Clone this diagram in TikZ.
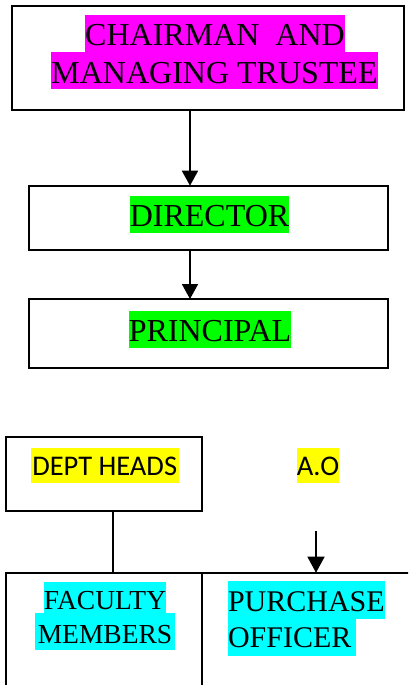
\documentclass[tikz,border=0pt]{standalone}
\usepackage{fontspec}
\setmainfont{Liberation Serif}
\newfontfamily\calibrifont{Carlito}
\usetikzlibrary{arrows.meta}
\definecolor{hlmag}{HTML}{FF00FF}
\definecolor{hlgreen}{HTML}{00FF00}
\definecolor{hlyellow}{HTML}{FFFF00}
\definecolor{hlcyan}{HTML}{00FFFF}
\begin{document}
\begin{tikzpicture}[x=1pt,y=-1pt,
  box/.style={draw, line width=1.8pt, inner sep=0pt, outer sep=0pt},
  hlbig/.style={inner sep=0pt, outer sep=0pt, anchor=base, text height=31pt, text depth=6pt, font=\fontsize{32}{37}\selectfont},
  hlsans/.style={inner sep=0pt, inner xsep=1.5pt, outer sep=0pt, anchor=base, text height=27pt, text depth=8pt, font=\calibrifont\fontsize{28.5}{34}\selectfont, fill=hlyellow},
  hlfac/.style={inner sep=0pt, outer sep=0pt, anchor=base, text height=27pt, text depth=7pt, font=\fontsize{27.5}{33}\selectfont, fill=hlcyan},
  hlpur/.style={inner sep=0pt, outer sep=0pt, anchor=base west, text height=30pt, text depth=8pt, font=\fontsize{30}{37}\selectfont, fill=hlcyan},
  arr/.style={line width=1.8pt, -{Triangle[width=16pt,length=15pt]}},
  arrthin/.style={line width=1.4pt, -{Triangle[width=17pt,length=16pt]}}
]
\path[use as bounding box] (0,0) rectangle (408,685);
\clip (0,0) rectangle (408,685);

% boxes
\node[box, minimum width=392pt, minimum height=104pt] (top) at (208,58) {};
\node[box, minimum width=359pt, minimum height=64.3pt] (dir) at (208.5,217.85) {};
\node[box, minimum width=359pt, minimum height=69pt] (prin) at (208.5,333.5) {};
\node[box, minimum width=196pt, minimum height=74pt] (dept) at (104,473.7) {};
\draw[line width=1.8pt] (6,700) coordinate (fbl) -- (6,572.7) coordinate (ftl) -- (430,572.7) coordinate (ptr);
\draw[line width=1.8pt] (202,572.7) coordinate (fsplit) -- (202,700) coordinate (fsplitb);

% texts
\node[hlbig, fill=hlmag] (t1) at (215,46) {CHAIRMAN\ \ AND};
\node[hlbig, fill=hlmag] (t2) at (214.5,83) {MANAGING TRUSTEE};
\node[hlbig, fill=hlgreen] (tdir) at (209.5,226.7) {DIRECTOR};
\node[hlbig, fill=hlgreen] (tprin) at (210,341.5) {PRINCIPAL};
\node[hlsans] (tdept) at (104.7,475) {DEPT HEADS};
\node[hlsans, inner xsep=0pt] (tao) at (318,475) {A.O};
\node[hlfac] (tfac1) at (105,609) {FACULTY};
\node[hlfac, text height=30pt, inner xsep=3pt] (tfac2) at (105,643.3) {MEMBERS};
\node[hlpur] (tpur1) at (228,611) {PURCHASE};
\node[hlpur] (tpur2) at (228,647.7) {OFFICER\,};

% connectors
\coordinate (ax) at (190,0);
\draw[arr] (ax |- top.south) -- (ax |- dir.north);
\draw[arr] (ax |- dir.south) -- (ax |- prin.north);
\coordinate (dx) at (113,0);
\draw[line width=1.8pt] (dx |- dept.south) -- (dx |- ftl);
\coordinate (aostart) at (316,531);
\draw[arrthin] (aostart) -- (aostart |- ftl);
\end{tikzpicture}
\end{document}
